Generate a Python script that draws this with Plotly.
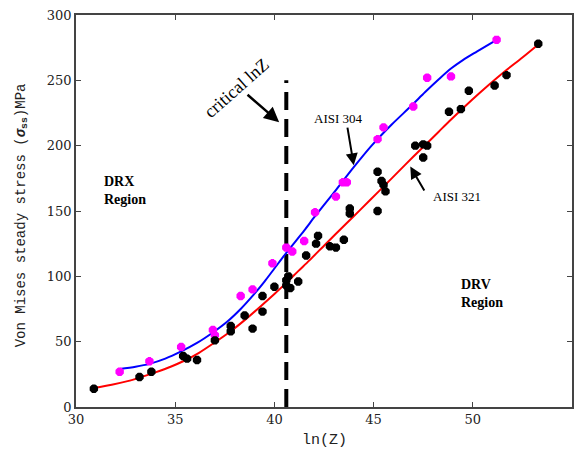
import plotly.graph_objects as go

# AISI 304 (magenta) experimental points
x304 = [32.2, 33.7, 35.3, 36.9, 37.0, 38.3, 38.9, 39.9, 40.6, 40.9, 41.5, 42.05,
        43.1, 43.45, 43.65, 45.2, 45.5, 47.0, 47.7, 48.9, 51.2]
y304 = [27, 35, 46, 59, 55, 85, 90, 110, 122, 119, 127, 149,
        161, 172, 172, 205, 214, 230, 252, 253, 281]

# AISI 321 (black) experimental points
x321 = [30.9, 33.2, 33.8, 35.4, 35.6, 36.1, 37.0, 37.8, 37.8, 38.5, 38.9, 39.4,
        39.4, 40.0, 40.6, 40.7, 40.8, 40.6, 41.2, 41.6, 42.1, 42.2, 42.8, 43.1,
        43.5, 43.8, 43.8, 45.2, 45.2, 45.4, 45.5, 45.6, 47.1, 47.5, 47.7, 47.5,
        48.8, 49.4, 49.8, 51.1, 51.7, 53.3]
y321 = [14, 23, 27, 39, 37, 36, 51, 58, 62, 70, 60, 73,
        85, 92, 97, 100, 91, 93, 96, 116, 125, 131, 123, 122,
        128, 152, 148, 150, 180, 173, 170, 165, 200, 201, 200, 191,
        226, 228, 242, 246, 254, 278]

# fitted curves
fit304_x = [32.2, 33.0, 33.7, 34.5, 35.3, 36.1, 36.9, 37.6, 38.3, 38.9, 39.5, 40.0,
            40.6, 41.5, 42.05, 43.1, 44.0, 44.9, 45.9, 46.9, 47.6, 48.3, 48.9,
            49.5, 50.2, 51.2]
fit304_y = [29, 30.8, 33, 37, 42.5, 49, 57, 65, 75, 85, 96, 106,
            118, 135, 146, 166, 183.5, 200, 216, 230.5, 241, 251, 259,
            265.5, 272, 281]

fit321_x = [30.9, 31.8, 32.6, 33.2, 34.0, 34.8, 35.4, 36.2, 37.0, 37.8, 38.5, 39.3,
            40.0, 40.6, 41.2, 41.75, 42.6, 43.6, 44.3, 45.26, 46.6, 47.5, 48.27,
            48.8, 49.95, 50.8, 51.62, 52.5, 53.3]
fit321_y = [14.5, 17, 19.8, 22.5, 26.5, 31, 35, 41.5, 49.5, 58, 66.5, 77,
            86.5, 95, 104, 112, 125, 140, 150.5, 165, 185.5, 199, 210.5,
            218.5, 235, 246.5, 257, 267.5, 277.5]

crit_x = [40.6, 40.6]
crit_y = [0, 250]

xticks = [30, 35, 40, 45, 50, 55]
yticks = [0, 50, 100, 150, 200, 250, 300]

fig = go.Figure()
fig.add_trace(go.Scatter(x=crit_x, y=crit_y, mode="lines",
                         line=dict(color="black", width=4, dash="18px,9px"),
                         showlegend=False, hoverinfo="skip"))
fig.add_trace(go.Scatter(x=fit304_x, y=fit304_y, mode="lines",
                         line=dict(color="#0000ff", width=2, shape="spline",
                                   smoothing=0.8),
                         showlegend=False))
fig.add_trace(go.Scatter(x=fit321_x, y=fit321_y, mode="lines",
                         line=dict(color="#ff0000", width=2, shape="spline",
                                   smoothing=0.8),
                         showlegend=False))
fig.add_trace(go.Scatter(x=x304, y=y304, mode="markers",
                         marker=dict(color="#ff00ff", size=7, symbol="asterisk-open",
                                     line=dict(width=3.5, color="#ff00ff")),
                         showlegend=False))
fig.add_trace(go.Scatter(x=x321, y=y321, mode="markers",
                         marker=dict(color="black", size=7, symbol="asterisk-open",
                                     line=dict(width=3.5, color="black")),
                         showlegend=False))

serif = "Liberation Serif"
mono = "Liberation Mono"
ann = []
ann.append(dict(x=38.1, y=244, xref="x", yref="y", text="critical lnZ",
                showarrow=False, textangle=-41.5,
                font=dict(family=serif, size=18, color="black")))
ann.append(dict(x=40.24, y=218, ax=38.57, ay=240, xref="x", yref="y",
                axref="x", ayref="y", text="", showarrow=True,
                arrowhead=2, arrowsize=1.2, arrowwidth=2.5, arrowcolor="black"))
ann.append(dict(x=43.25, y=221, xref="x", yref="y", text="AISI 304",
                showarrow=False, font=dict(family=serif, size=13, color="black")))
ann.append(dict(x=44.0, y=185, ax=43.67, ay=215, xref="x", yref="y",
                axref="x", ayref="y", text="", showarrow=True,
                arrowhead=2, arrowsize=1.2, arrowwidth=2, arrowcolor="black"))
ann.append(dict(x=49.2, y=161, xref="x", yref="y", text="AISI 321",
                showarrow=False, font=dict(family=serif, size=13, color="black")))
ann.append(dict(x=46.85, y=184, ax=47.6, ay=164.5, xref="x", yref="y",
                axref="x", ayref="y", text="", showarrow=True,
                arrowhead=2, arrowsize=1.2, arrowwidth=2, arrowcolor="black"))
ann.append(dict(x=31.29, y=165.5, xref="x", yref="y", xanchor="left",
                text="<b>DRX<br>Region</b>", align="left", showarrow=False,
                font=dict(family=serif, size=14, color="black")))
ann.append(dict(x=49.28, y=87, xref="x", yref="y", xanchor="left",
                text="<b>DRV<br>Region</b>", align="left", showarrow=False,
                font=dict(family=serif, size=14, color="black")))
ann.append(dict(x=-0.11, y=0.49, xref="paper", yref="paper",
                xanchor="center", yanchor="middle",
                text="Von Mises steady stress (<b><i>σ</i></b><sub><b>ss</b></sub>)MPa",
                textangle=-90, showarrow=False,
                font=dict(family=mono, size=14, color="#222")))
ann.append(dict(x=0.5, y=-0.085, xref="paper", yref="paper", yanchor="middle",
                xanchor="center", text="ln(Z)", showarrow=False,
                font=dict(family=mono, size=15, color="#222")))

axis_common = dict(showgrid=False, zeroline=False, showline=True, mirror="ticks",
                   linecolor="#444", linewidth=1.5, ticks="inside", ticklen=5,
                   tickcolor="#444", tickfont=dict(family="DejaVu Serif", size=13,
                                                   color="#222"))
fig.update_layout(
    width=579, height=452,
    margin=dict(l=76, r=5, t=15, b=45),
    plot_bgcolor="white", paper_bgcolor="white",
    xaxis=dict(range=[30, 55], tickvals=xticks, **axis_common),
    yaxis=dict(range=[0, 300], tickvals=yticks, **axis_common),
    annotations=ann,
)
fig.write_html("out.html")
